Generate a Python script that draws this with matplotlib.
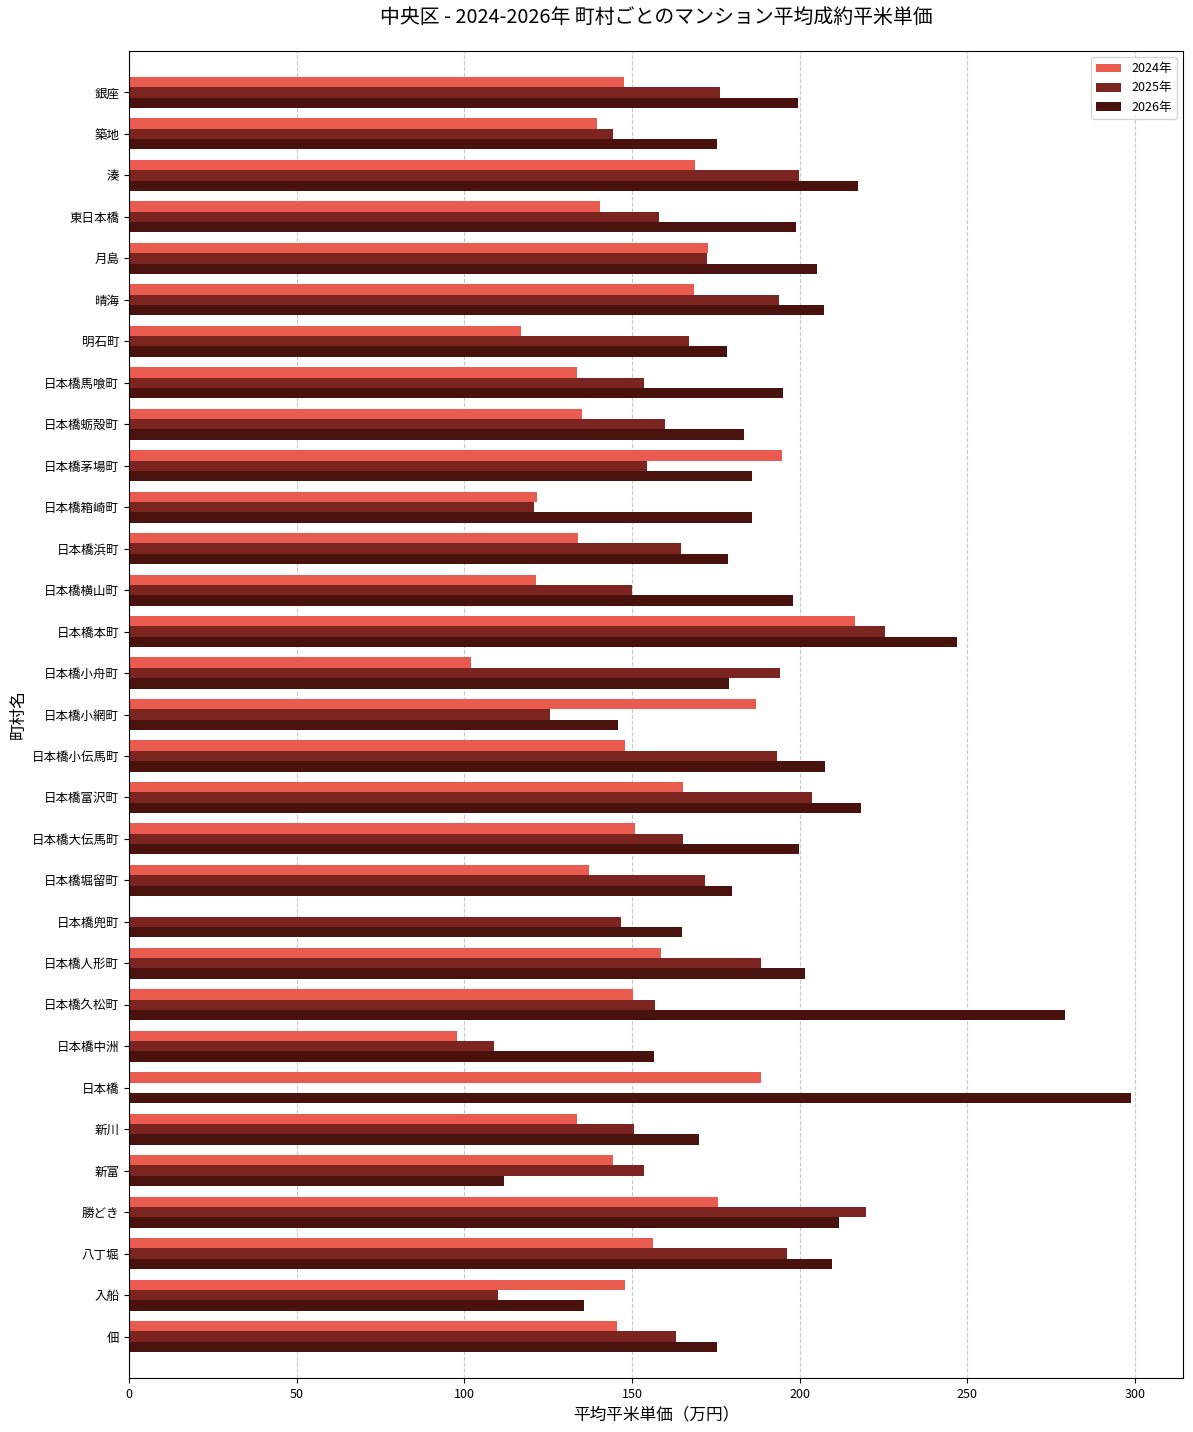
import numpy as np
import matplotlib
matplotlib.use('Agg')
import matplotlib.pyplot as plt

plt.rcParams['font.family'] = ['Noto Sans CJK JP', 'DejaVu Sans']

# 町村名 (上から順)
towns = ['銀座', '築地', '湊', '東日本橋', '月島', '晴海', '明石町',
         '日本橋馬喰町', '日本橋蛎殻町', '日本橋茅場町', '日本橋箱崎町', '日本橋浜町',
         '日本橋横山町', '日本橋本町', '日本橋小舟町', '日本橋小網町', '日本橋小伝馬町',
         '日本橋富沢町', '日本橋大伝馬町', '日本橋堀留町', '日本橋兜町', '日本橋人形町',
         '日本橋久松町', '日本橋中洲', '日本橋', '新川', '新富', '勝どき', '八丁堀',
         '入船', '佃']

v2024 = [147.5, 139.5, 168.7, 140.4, 172.8, 168.4, 117.0,
         133.6, 135.1, 194.6, 121.6, 133.9,
         121.4, 216.6, 102.0, 187.1, 148.0,
         165.2, 151.0, 137.2, np.nan, 158.7,
         150.2, 97.8, 188.6, 133.6, 144.3, 175.7, 156.3,
         148.0, 145.5]

v2025 = [176.1, 144.3, 199.9, 157.9, 172.5, 193.9, 166.9,
         153.6, 159.9, 154.5, 120.8, 164.7,
         149.9, 225.3, 194.2, 125.6, 193.1,
         203.7, 165.2, 171.9, 146.8, 188.6,
         156.9, 108.8, np.nan, 150.6, 153.6, 219.9, 196.1,
         110.0, 163.2]

v2026 = [199.6, 175.2, 217.5, 199.0, 205.3, 207.3, 178.2,
         195.1, 183.5, 185.8, 185.8, 178.7,
         198.1, 247.0, 179.0, 145.8, 207.4,
         218.4, 199.9, 179.9, 164.9, 201.7,
         279.0, 156.6, 298.9, 170.0, 111.8, 211.8, 209.5,
         135.7, 175.2]

years = ['2024年', '2025年', '2026年']
colors = ['#e85b4e', '#7b2420', '#4a120c']

fig = plt.figure(figsize=(11.93, 14.32), dpi=100)
ax = fig.add_axes([129 / 1193, 1 - 1378 / 1432, (1183 - 129) / 1193, (1378 - 51) / 1432])

y = np.arange(len(towns))
h = 0.25
for i, (vals, lab, c) in enumerate(zip([v2024, v2025, v2026], years, colors)):
    ax.barh(y + (i - 1) * h, vals, height=h, color=c, label=lab, zorder=2)

ax.set_yticks(y)
ax.set_yticklabels(towns, fontsize=9)
ax.set_ylim(len(towns), -1)
ax.set_xlim(0, 314.3)
ax.tick_params(axis='x', labelsize=9)
ax.grid(axis='x', linestyle='--', color='#bbbbbb', alpha=0.8, zorder=0)
ax.set_axisbelow(True)

ax.set_xlabel('平均平米単価（万円）', fontsize=12)
ax.set_ylabel('町村名', fontsize=12)
ax.set_title('中央区 - 2024-2026年 町村ごとのマンション平均成約平米単価', fontsize=14.3, pad=20)
ax.legend(loc='upper right', fontsize=9)

fig.savefig('out.png', dpi=100)
